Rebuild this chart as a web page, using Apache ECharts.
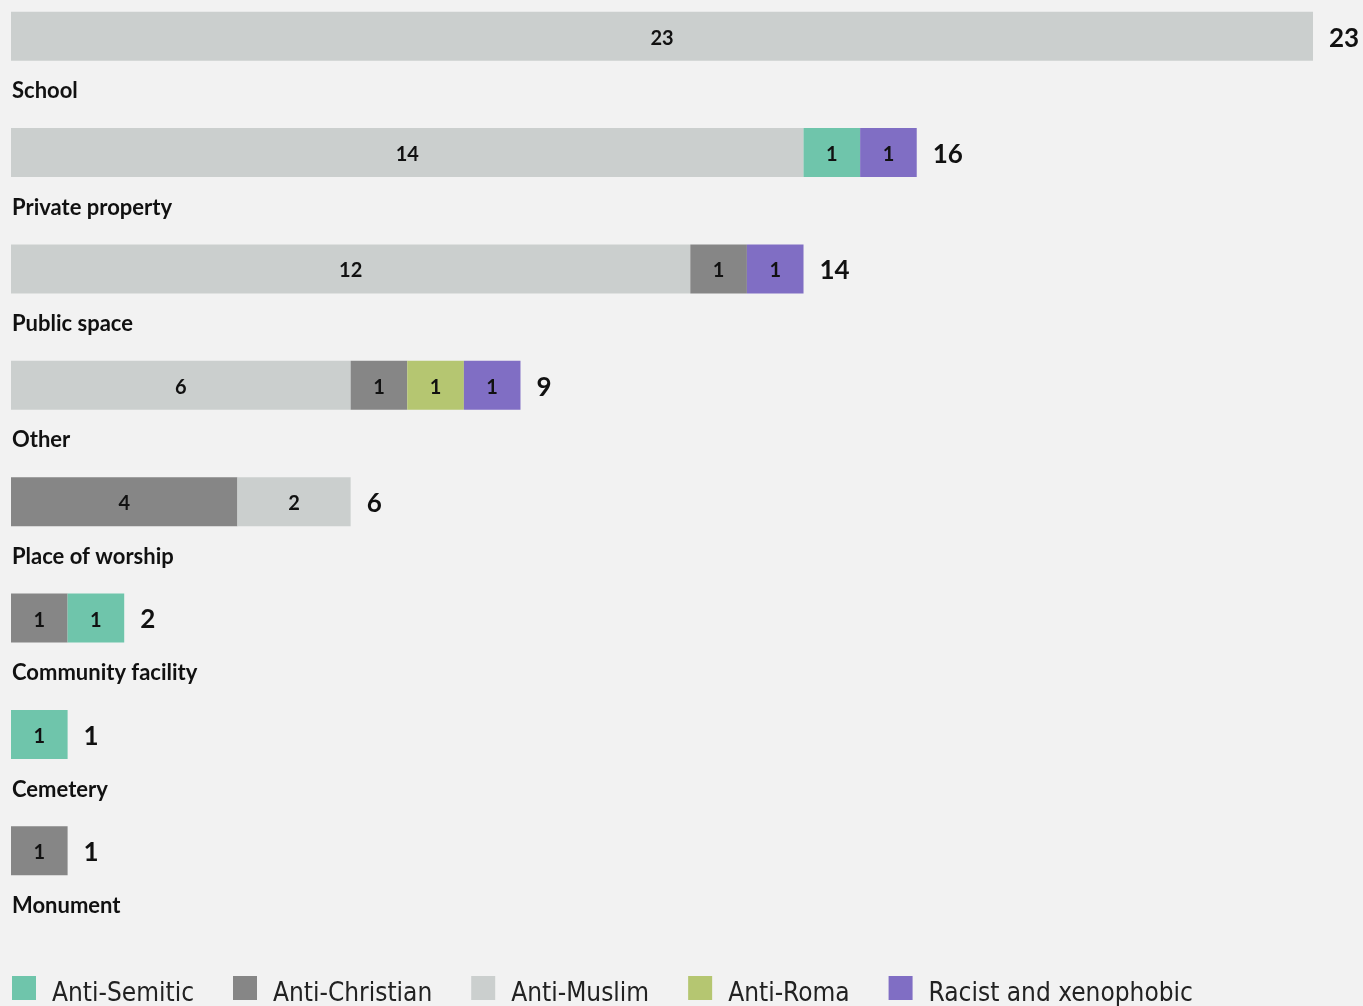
<!DOCTYPE html>
<html>
<head>
<meta charset="utf-8">
<script src="https://cdn.jsdelivr.net/npm/echarts@6/dist/echarts.min.js"></script>
<style>
html,body{margin:0;padding:0;background:#f2f2f2;}
#main{width:1363px;height:1006px;}
</style>
</head>
<body>
<div id="main"></div>
<script>
var categories = ['School','Private property','Public space','Other','Place of worship','Community facility','Cemetery','Monument'];
var antiSemitic   = [0, 1, 0, 0, 0, 1, 1, 0];
var antiChristian = [0, 0, 1, 1, 4, 1, 0, 1];
var antiMuslim    = [23, 14, 12, 6, 2, 0, 0, 0];
var antiRoma      = [0, 0, 0, 1, 0, 0, 0, 0];
var racist        = [0, 1, 1, 1, 0, 0, 0, 0];

var groups = [
  {name:'Anti-Semitic', data: antiSemitic, color:'#6fc5ab'},
  {name:'Anti-Christian', data: antiChristian, color:'#868686'},
  {name:'Anti-Muslim', data: antiMuslim, color:'#cbcfce'},
  {name:'Anti-Roma', data: antiRoma, color:'#b5c671'},
  {name:'Racist and xenophobic', data: racist, color:'#806ec4'}
];
// stacking tie order
var stackOrder = [2, 1, 0, 3, 4];

var totals = categories.map(function(c, i){
  return groups.reduce(function(s, g){ return s + g.data[i]; }, 0);
});

var slots = [[],[],[],[],[]];
categories.forEach(function(c, i){
  var items = stackOrder.map(function(gi, k){ return {gi: gi, k: k, v: groups[gi].data[i]}; })
    .filter(function(o){ return o.v > 0; });
  items.sort(function(a, b){ return (b.v - a.v) || (a.k - b.k); });
  for (var s = 0; s < 5; s++) {
    if (s < items.length) {
      slots[s].push({value: items[s].v, itemStyle: {color: groups[items[s].gi].color}});
    } else {
      slots[s].push('-');
    }
  }
});

var BW = 49;
var series = [];
groups.forEach(function(g){
  series.push({name: g.name, type:'bar', stack:'total', barWidth: BW, barGap:'-100%',
    itemStyle:{color: g.color}, data: []});
});
slots.forEach(function(d, s){
  series.push({name: 'slot' + s, type:'bar', stack:'total', barWidth: BW, barGap:'-100%', z: 3,
    data: d,
    label: {show: true, position: 'inside', offset: [0, 2], color: '#111', fontFamily: 'Lato',
      fontWeight: 'bold', fontSize: 20}
  });
});
series.push({name: 'total', type:'bar', barWidth: BW, barGap:'-100%', z: 1,
  itemStyle: {color: 'rgba(0,0,0,0)'},
  data: totals,
  label: {show: true, position: 'right', distance: 16, offset: [0, 2], color: '#111', fontFamily: 'Lato',
    fontWeight: 'bold', fontSize: 26}
});

var chart = echarts.init(document.getElementById('main'));
chart.setOption({
  backgroundColor: '#f2f2f2',
  animation: false,
  grid: {left: 11, top: -22, width: 1302, height: 931, containLabel: false, outerBoundsMode: 'none'},
  xAxis: {type: 'value', min: 0, max: 23, show: false},
  yAxis: {type: 'category', data: categories, inverse: true,
    axisLine: {show: false}, axisTick: {show: false}, splitLine: {show: false},
    axisLabel: {inside: true, margin: 1, interval: 0, align: 'left', verticalAlign: 'top',
      padding: [44, 0, 0, 0], color: '#111', fontFamily: 'Lato', fontWeight: 'bold', fontSize: 22}
  },
  legend: {
    data: groups.map(function(g){ return g.name; }),
    left: 12, top: 976, padding: 0, itemWidth: 24, itemHeight: 24, itemGap: 39, icon: 'rect',
    selectedMode: false,
    formatter: '{t|{name}}',
    textStyle: {color: '#222', fontFamily: 'DejaVu Sans Condensed, Noto Sans', fontSize: 26, padding: [0,0,0,11],
      rich: {t: {color: '#222', fontFamily: 'DejaVu Sans Condensed, Noto Sans', fontSize: 26, padding: [12,0,0,0]}}}
  },
  series: series
});
</script>
</body>
</html>
